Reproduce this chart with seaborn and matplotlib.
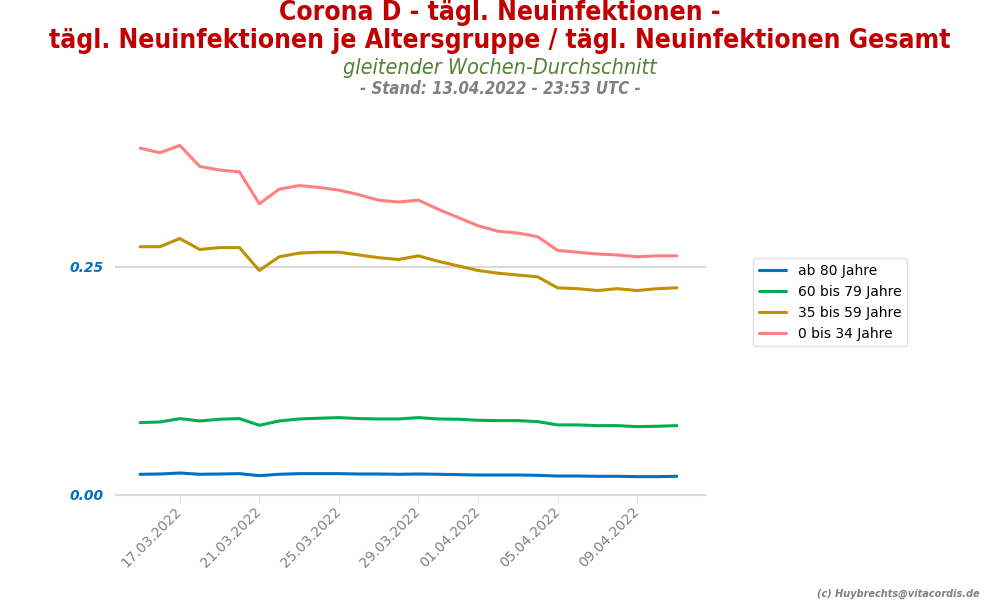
import numpy as np
import pandas as pd
import matplotlib
matplotlib.use("Agg")
import matplotlib.pyplot as plt
import matplotlib.dates as mdates
import seaborn as sns

dates = pd.date_range("2022-03-15", "2022-04-11", freq="D")

ab80 = [0.0227, 0.0230, 0.0241, 0.0227, 0.0230, 0.0234, 0.0212, 0.0227, 0.0234, 0.0234,
        0.0234, 0.0230, 0.0230, 0.0227, 0.0230, 0.0227, 0.0223, 0.0219, 0.0219, 0.0219,
        0.0216, 0.0208, 0.0208, 0.0205, 0.0205, 0.0201, 0.0201, 0.0205]
g60_79 = [0.0793, 0.0800, 0.0837, 0.0811, 0.0830, 0.0837, 0.0764, 0.0811, 0.0833, 0.0841,
          0.0848, 0.0837, 0.0833, 0.0833, 0.0848, 0.0833, 0.0830, 0.0819, 0.0815, 0.0815,
          0.0804, 0.0768, 0.0768, 0.0760, 0.0760, 0.0749, 0.0753, 0.0760]
g35_59 = [0.272, 0.272, 0.281, 0.269, 0.271, 0.271, 0.246, 0.261, 0.265, 0.266,
          0.266, 0.263, 0.260, 0.258, 0.262, 0.256, 0.251, 0.246, 0.243, 0.241,
          0.239, 0.227, 0.226, 0.224, 0.226, 0.224, 0.226, 0.227]
g0_34 = [0.380, 0.375, 0.383, 0.360, 0.356, 0.354, 0.319, 0.335, 0.339, 0.337,
         0.334, 0.329, 0.323, 0.321, 0.323, 0.313, 0.304, 0.295, 0.289, 0.287,
         0.283, 0.268, 0.266, 0.264, 0.263, 0.261, 0.262, 0.262]

series_names = ["ab 80 Jahre", "60 bis 79 Jahre", "35 bis 59 Jahre", "0 bis 34 Jahre"]
series_colors = ["#0070C0", "#00B050", "#BF9000", "#FF8080"]
tick_dates = ["2022-03-17", "2022-03-21", "2022-03-25", "2022-03-29",
              "2022-04-01", "2022-04-05", "2022-04-09"]
y_ticks = [0.0, 0.25]

df = pd.DataFrame({
    "Datum": np.tile(dates, 4),
    "Anteil": ab80 + g60_79 + g35_59 + g0_34,
    "Gruppe": np.repeat(series_names, len(dates)),
})

sns.set_theme(style="white")
plt.rcParams["font.family"] = ["DejaVu Sans"]
plt.rcParams["text.color"] = "black"

fig = plt.figure(figsize=(10, 6), dpi=100)
ax = fig.add_axes([0.115, 0.175, 0.591, 0.642])

sns.lineplot(data=df, x="Datum", y="Anteil", hue="Gruppe", hue_order=series_names,
             palette=series_colors, linewidth=2.2, ax=ax)

ax.set_xlim(dates[0] - pd.Timedelta(days=1.26), dates[0] + pd.Timedelta(days=28.47))
ax.set_ylim(0, 0.422)
ax.set_yticks(y_ticks)
ax.set_yticklabels([f"{v:.2f}" for v in y_ticks], color="#0070C0",
                   fontweight="bold", fontstyle="italic", fontsize=10)
ax.yaxis.grid(True, color="#D9D9D9", linewidth=1.5)
ax.tick_params(axis="y", length=0, pad=8)

ax.set_xticks(pd.to_datetime(tick_dates))
ax.xaxis.set_major_formatter(mdates.DateFormatter("%d.%m.%Y"))
plt.setp(ax.get_xticklabels(), rotation=45, ha="right", va="center",
         rotation_mode="anchor", color="#808080", fontsize=10)
ax.tick_params(axis="x", length=5, width=0.8, color="#DCDCDC", direction="out",
               bottom=True, pad=5.5)

for s in ["top", "right", "left"]:
    ax.spines[s].set_visible(False)
ax.spines["bottom"].set_color("#DCDCDC")
ax.spines["bottom"].set_linewidth(0.8)
ax.set_xlabel("")
ax.set_ylabel("")

leg = ax.legend(loc="center left", bbox_to_anchor=(1.068, 0.5), fontsize=10,
                frameon=True, handlelength=2.0)
leg.get_frame().set_edgecolor("#D9D9D9")
for line in leg.get_lines():
    line.set_linewidth(2.2)
for t in leg.get_texts():
    t.set_color("black")

fig.text(0.5, 0.979, "Corona D - tägl. Neuinfektionen -", ha="center", va="center",
         fontsize=19, fontweight="bold", color="#C00000", fontstretch="condensed")
fig.text(0.5, 0.932, "tägl. Neuinfektionen je Altersgruppe / tägl. Neuinfektionen Gesamt",
         ha="center", va="center", fontsize=19, fontweight="bold", color="#C00000",
         fontstretch="condensed")
fig.text(0.5, 0.887, "gleitender Wochen-Durchschnitt", ha="center", va="center",
         fontsize=15.5, fontstyle="italic", color="#548235", fontstretch="condensed")
fig.text(0.5, 0.851, "- Stand: 13.04.2022 - 23:53 UTC -", ha="center", va="center",
         fontsize=12, fontstyle="italic", fontweight="bold", color="#808080",
         fontstretch="condensed")
fig.text(0.98, 0.01, "(c) Huybrechts@vitacordis.de", ha="right", va="center",
         fontsize=7, fontstyle="italic", fontweight="bold", color="#808080")

fig.savefig("out.png", dpi=100)
